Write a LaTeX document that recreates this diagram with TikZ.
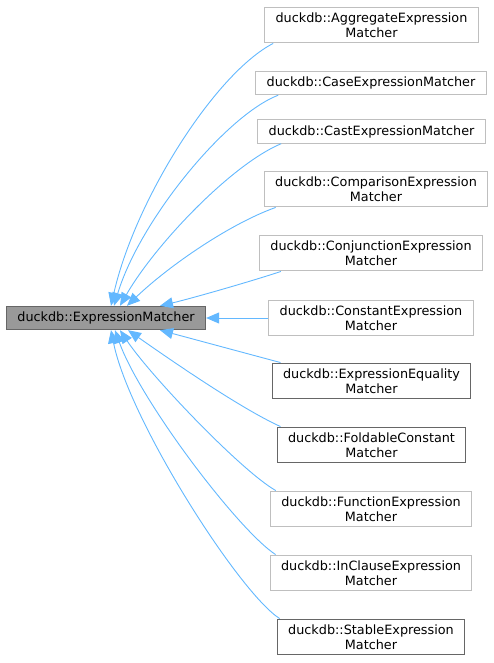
\documentclass[tikz,border=0pt]{standalone}
\usepackage{fontspec}
\setmainfont{DejaVu Sans}
\usepackage{xcolor}
\usetikzlibrary{arrows.meta}

\definecolor{linkblue}{HTML}{63B8FF}
\definecolor{lightframe}{HTML}{BFBFBF}
\definecolor{darkframe}{HTML}{666666}
\definecolor{basefill}{HTML}{999999}
\definecolor{baseframe}{HTML}{666666}

\begin{document}
\begin{tikzpicture}[x=1pt, y=-1pt,
  every node/.style={rectangle, align=center, inner xsep=11pt, inner ysep=5.5pt, line width=1pt, font=\fontsize{12.8}{15}\selectfont},
  cls/.style={draw=lightframe, fill=white},
  doc/.style={draw=darkframe, fill=white},
  base/.style={draw=baseframe, fill=basefill},
  link/.style={draw=linkblue, line width=0.9pt, -{Triangle[length=13pt, width=11pt]}}]
  \useasboundingbox (0,0) rectangle (493,663);
  \node[base] (root) at (106,318) {duckdb::ExpressionMatcher};
  \node[cls] (agg) at (371.5,25) {duckdb::AggregateExpression\\Matcher};
  \node[cls] (case) at (371,83) {duckdb::CaseExpressionMatcher};
  \node[cls] (cast) at (371.5,131.5) {duckdb::CastExpressionMatcher};
  \node[cls] (comp) at (376,189) {duckdb::ComparisonExpression\\Matcher};
  \node[cls] (conj) at (371,253) {duckdb::ConjunctionExpression\\Matcher};
  \node[cls] (const) at (371,318) {duckdb::ConstantExpression\\Matcher};
  \node[doc] (equal) at (371.5,381) {duckdb::ExpressionEquality\\Matcher};
  \node[doc] (fold) at (371.5,445) {duckdb::FoldableConstant\\Matcher};
  \node[cls] (func) at (371,509) {duckdb::FunctionExpression\\Matcher};
  \node[cls] (incl) at (371,573) {duckdb::InClauseExpression\\Matcher};
  \node[doc] (stable) at (371,637) {duckdb::StableExpression\\Matcher};

  \draw[link] ([xshift=9pt]agg.south west) .. controls +(-58,30) and +(24,-106) .. ([xshift=5pt]root.north);
  \draw[link] ([xshift=23pt]case.south west) .. controls +(-52,20) and +(26,-86) .. ([xshift=8pt]root.north);
  \draw[link] ([xshift=24pt]cast.south west) .. controls +(-50,21) and +(35,-61) .. ([xshift=14pt]root.north);
  \draw[link] ([xshift=12pt]comp.south west) .. controls +(-45,16) and +(43,-41) .. ([xshift=21pt]root.north);
  \draw[link] ([xshift=22pt]conj.south west) .. controls +(-30,10) and +(30,-7) .. ([xshift=54pt]root.north);
  \draw[link] (const.west) -- (root.east);
  \draw[link] ([xshift=9pt]equal.north west) .. controls +(-30,-8) and +(30,8) .. ([xshift=54pt]root.south);
  \draw[link] ([xshift=4pt]fold.north west) .. controls +(-40,-18) and +(40,28) .. ([xshift=22pt]root.south);
  \draw[link] ([xshift=6pt]func.north west) .. controls +(-35,-20) and +(30,45) .. ([xshift=14pt]root.south);
  \draw[link] ([xshift=6pt]incl.north west) .. controls +(-38,-25) and +(25,70) .. ([xshift=9pt]root.south);
  \draw[link] ([xshift=3pt]stable.north west) .. controls +(-40,-25) and +(18,90) .. ([xshift=5pt]root.south);
\end{tikzpicture}
\end{document}
